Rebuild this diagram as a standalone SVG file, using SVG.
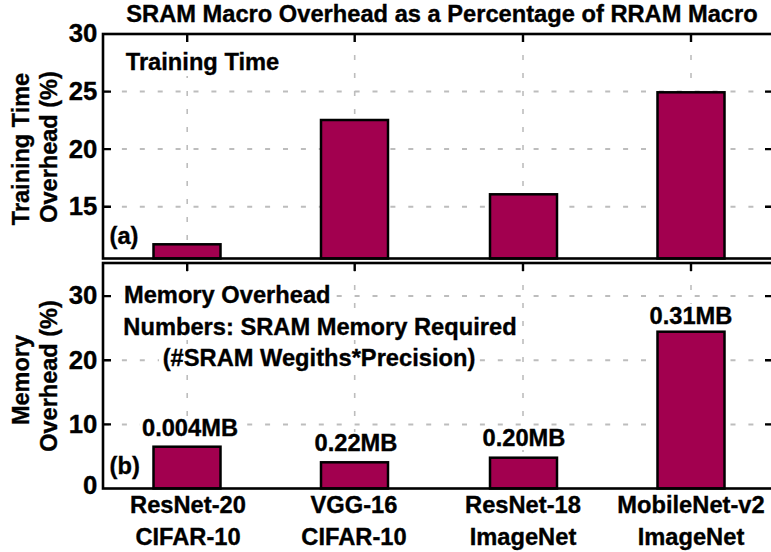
<svg xmlns="http://www.w3.org/2000/svg" width="771" height="552" viewBox="0 0 771 552">
  <style>
    text { font-family: "Liberation Sans", Arial, Helvetica, sans-serif; font-weight: bold; fill: #000; stroke: #000; stroke-width: 0.35; font-size: 23px; }
    .sx { transform-box: fill-box; transform-origin: center; transform: scaleX(1.03); }
    .tick { font-size: 25px; text-anchor: end; }
    .mid { text-anchor: middle; }
    .ylab { font-size: 23.5px; text-anchor: middle; }
    .gridh { stroke: #bdbdbd; stroke-width: 2; stroke-dasharray: 5 12.9; fill: none; }
    .gridv { stroke: #bdbdbd; stroke-width: 1.6; stroke-dasharray: 5 13; fill: none; }
    .bar { fill: #a2004f; stroke: #000; stroke-width: 2.5; }
    .frame { fill: none; stroke: #000; stroke-width: 2.6; }
    .tk { stroke: #000; stroke-width: 2.4; fill: none; }
    .bg { fill: #fff; }
  </style>

  <!-- chart title -->
  <text id="title" class="sx" x="442" y="22" text-anchor="middle">SRAM Macro Overhead as a Percentage of RRAM Macro</text>

  <!-- panel (a): training time overhead, y from 10.5 to 30 -->
  <g id="panel-a">
    <g id="grid-a">
      <path class="gridh" d="M104,91.6 H772 M104,149.1 H772 M104,206.7 H772"/>
      <path class="gridv" d="M187.2,258 V35 M354.7,258 V35 M523,258 V35 M691,258 V35"/>
    </g>
    <rect class="bg" x="123" y="51" width="159" height="25"/>
    <text class="sx" x="128" y="70.5">Training Time</text>
    <rect class="bg" x="107" y="225" width="35" height="25"/>
    <text class="sx" x="110" y="244">(a)</text>
    <g id="bars-a">
      <rect class="bar" x="153.5" y="244.3" width="67" height="14.2"/>
      <rect class="bar" x="321" y="120" width="67" height="138.5"/>
      <rect class="bar" x="490" y="194.3" width="67" height="64.2"/>
      <rect class="bar" x="657.5" y="92.3" width="67" height="166.2"/>
    </g>
    <g id="ticks-a">
      <path class="tk" d="M103,91.6 h8 M103,149.1 h8 M103,206.7 h8 M772,91.6 h-7 M772,149.1 h-7 M772,206.7 h-7 M187.2,34 v8 M354.7,34 v8 M523,34 v8 M691,34 v8"/>
    </g>
    <rect class="frame" x="103" y="34" width="671" height="224.5"/>
    <g id="yticks-a">
      <text class="tick sx" x="97" y="42">30</text>
      <text class="tick sx" x="97" y="100.5">25</text>
      <text class="tick sx" x="97" y="158">20</text>
      <text class="tick sx" x="97" y="215.5">15</text>
    </g>
    <g id="ylabel-a">
      <text class="ylab" transform="translate(28.5,149) rotate(-90)">Training Time</text>
      <text class="ylab" transform="translate(56.5,147) rotate(-90)">Overhead (%)</text>
    </g>
  </g>

  <!-- panel (b): memory overhead, y from 0 to 35 -->
  <g id="panel-b">
    <g id="grid-b">
      <path class="gridh" d="M104,296.1 H772 M104,360.2 H772 M104,424.4 H772"/>
      <path class="gridv" d="M187.2,488 V264 M354.7,488 V264 M523,488 V264 M691,488 V264"/>
    </g>
    <g id="notes-b">
      <rect class="bg" x="122" y="284" width="212" height="25"/>
      <text class="sx" x="127" y="303.5">Memory Overhead</text>
      <rect class="bg" x="122" y="314" width="396" height="26"/>
      <text class="sx" x="320" y="335.5" text-anchor="middle">Numbers: SRAM Memory Required</text>
      <rect class="bg" x="159" y="344" width="320" height="27"/>
      <text class="sx" x="319" y="366" text-anchor="middle">(#SRAM Wegiths*Precision)</text>
      <rect class="bg" x="107" y="455" width="35" height="25"/>
      <text class="sx" x="110" y="474">(b)</text>
    </g>
    <g id="bars-b">
      <rect class="bar" x="153.5" y="446.7" width="67" height="41.8"/>
      <rect class="bar" x="321" y="462.3" width="67" height="26.2"/>
      <rect class="bar" x="490" y="457.7" width="67" height="30.8"/>
      <rect class="bar" x="657.5" y="331.7" width="67" height="156.8"/>
    </g>
    <g id="values-b">
      <rect class="bg" x="140" y="417" width="100" height="23"/>
      <text class="sx mid" x="190" y="436.5">0.004MB</text>
      <rect class="bg" x="312" y="432" width="88" height="23"/>
      <text class="sx mid" x="356" y="451.5">0.22MB</text>
      <rect class="bg" x="480" y="427" width="88" height="23"/>
      <text class="sx mid" x="524" y="446.5">0.20MB</text>
      <rect class="bg" x="647" y="304" width="88" height="23"/>
      <text class="sx mid" x="691" y="324">0.31MB</text>
    </g>
    <g id="ticks-b">
      <path class="tk" d="M103,296.1 h8 M103,360.2 h8 M103,424.4 h8 M772,296.1 h-7 M772,360.2 h-7 M772,424.4 h-7 M187.2,263 v8 M354.7,263 v8 M523,263 v8 M691,263 v8"/>
    </g>
    <rect class="frame" x="103" y="263" width="671" height="225.5"/>
    <g id="yticks-b">
      <text class="tick sx" x="97" y="304.5">30</text>
      <text class="tick sx" x="97" y="368.7">20</text>
      <text class="tick sx" x="97" y="432.9">10</text>
      <text class="tick sx" x="97" y="494.5">0</text>
    </g>
    <g id="ylabel-b">
      <text class="ylab" transform="translate(28.5,380) rotate(-90)">Memory</text>
      <text class="ylab" transform="translate(56.5,376) rotate(-90)">Overhead (%)</text>
    </g>
  </g>

  <!-- category labels -->
  <g id="xlabels">
    <text class="sx mid" x="188" y="513.5">ResNet-20</text>
    <text class="sx mid" x="188" y="545.5">CIFAR-10</text>
    <text class="sx mid" x="354" y="513.5">VGG-16</text>
    <text class="sx mid" x="354" y="545.5">CIFAR-10</text>
    <text class="sx mid" x="523" y="513.5">ResNet-18</text>
    <text class="sx mid" x="523" y="545.5">ImageNet</text>
    <text class="sx mid" x="691" y="513.5">MobileNet-v2</text>
    <text class="sx mid" x="691" y="545.5">ImageNet</text>
  </g>
</svg>
